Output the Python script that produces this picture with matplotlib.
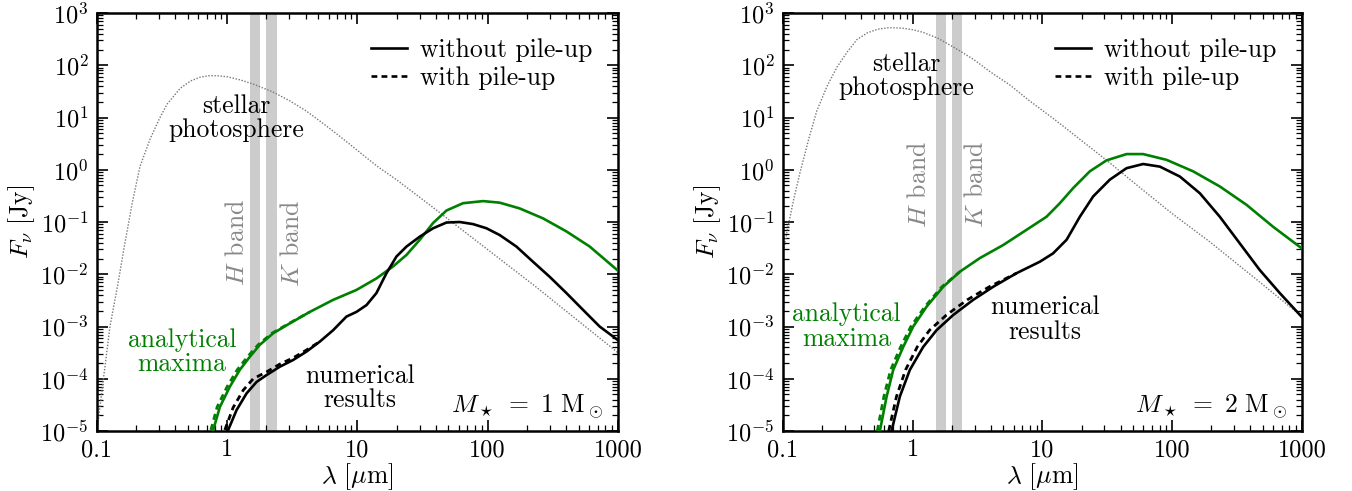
import matplotlib
matplotlib.use("Agg")
import numpy as np
import matplotlib.pyplot as plt
from matplotlib.ticker import FixedLocator, NullFormatter

plt.rcParams['font.family'] = 'serif'
plt.rcParams['font.serif'] = ['cmr10']
plt.rcParams['mathtext.fontset'] = 'cm'
plt.rcParams['axes.formatter.use_mathtext'] = True
plt.rcParams['axes.unicode_minus'] = False

# values, kept as log10(lambda / micron) and log10(F_nu / Jy)

# ---- left panel: M = 1 Msun ----
star1_loglam = [-1.0, -0.98, -0.94, -0.9, -0.84, -0.785, -0.73, -0.67, -0.59, -0.52, -0.46, -0.36,
                -0.28, -0.21, -0.14, -0.08, 0.0, 0.1, 0.2, 0.35, 0.48, 0.61, 0.74, 0.865, 1.0,
                1.15, 1.3, 1.58, 1.84, 2.1, 2.35, 2.65, 3.0]
star1_logf = [-5.0, -4.6, -3.8, -3.0, -2.2, -1.4, -0.65, 0.06, 0.6, 0.98, 1.26, 1.56,
              1.70, 1.77, 1.80, 1.80, 1.78, 1.72, 1.64, 1.49, 1.32, 1.12, 0.88, 0.64, 0.37,
              0.07, -0.19, -0.72, -1.22, -1.72, -2.2, -2.8, -3.5]

ana1_loglam = [-0.107, -0.056, 0.021, 0.097, 0.174, 0.251, 0.353, 0.481, 0.635, 0.814, 0.993,
               1.146, 1.274, 1.377, 1.479, 1.581, 1.684, 1.811, 1.965, 2.093, 2.246, 2.425,
               2.605, 2.784, 3.0]
ana1_logf = [-4.98, -4.54, -4.15, -3.83, -3.58, -3.35, -3.13, -2.94, -2.72, -2.49, -2.30,
             -2.08, -1.85, -1.63, -1.34, -1.02, -0.78, -0.64, -0.60, -0.63, -0.74, -0.93,
             -1.18, -1.47, -1.93]
ana1_pile_loglam = [-0.125, -0.077, 0.0, 0.077, 0.156, 0.238, 0.343, 0.476, 0.635]
ana1_pile_logf = [-4.98, -4.54, -4.15, -3.83, -3.58, -3.35, -3.13, -2.94, -2.72]

num1_loglam = [0.008, 0.072, 0.149, 0.226, 0.302, 0.404, 0.507, 0.609, 0.711, 0.814, 0.916,
               0.993, 1.07, 1.146, 1.223, 1.30, 1.377, 1.479, 1.581, 1.684, 1.786, 1.888,
               1.991, 2.093, 2.221, 2.348, 2.477, 2.605, 2.732, 2.86, 3.0]
num1_logf = [-4.98, -4.6, -4.28, -4.06, -3.93, -3.77, -3.64, -3.48, -3.29, -3.07, -2.81,
             -2.72, -2.59, -2.36, -1.98, -1.66, -1.47, -1.28, -1.12, -1.01, -1.0, -1.04,
             -1.12, -1.25, -1.47, -1.76, -2.05, -2.36, -2.68, -3.0, -3.26]
num1_pile_loglam = [-0.018, 0.046, 0.123, 0.2, 0.302, 0.404, 0.507, 0.609, 0.711]
num1_pile_logf = [-4.98, -4.55, -4.22, -4.0, -3.87, -3.72, -3.60, -3.45, -3.29]

# ---- right panel: M = 2 Msun ----
star2_loglam = [-1.0, -0.97, -0.92, -0.87, -0.80, -0.74, -0.66, -0.58, -0.50, -0.43, -0.35,
                -0.27, -0.18, -0.08, 0.0, 0.08, 0.2, 0.34, 0.47, 0.6, 0.75, 0.9, 1.1, 1.3,
                1.5, 1.77, 2.0, 2.29, 2.6, 3.0]
star2_logf = [-1.62, -1.2, -0.6, -0.07, 0.6, 1.12, 1.6, 1.98, 2.27, 2.49, 2.62,
              2.69, 2.72, 2.71, 2.68, 2.63, 2.51, 2.31, 2.11, 1.87, 1.62, 1.32, 0.95, 0.56,
              0.17, -0.38, -0.84, -1.38, -2.0, -2.81]

ana2_loglam = [-0.253, -0.201, -0.15, -0.073, 0.004, 0.107, 0.235, 0.364, 0.518, 0.698, 0.877,
               1.031, 1.134, 1.237, 1.365, 1.494, 1.648, 1.776, 1.956, 2.161, 2.367, 2.572,
               2.777, 2.996]
ana2_logf = [-5.0, -4.34, -3.83, -3.39, -3.0, -2.62, -2.24, -1.95, -1.69, -1.44, -1.15,
             -0.90, -0.64, -0.35, -0.03, 0.18, 0.30, 0.30, 0.19, -0.03, -0.32, -0.67,
             -1.09, -1.50]
ana2_pile_loglam = [-0.273, -0.222, -0.17, -0.093, -0.014, 0.094, 0.225, 0.364]
ana2_pile_logf = [-5.0, -4.34, -3.83, -3.39, -3.0, -2.62, -2.24, -1.95]

num2_loglam = [-0.163, -0.099, -0.022, 0.081, 0.184, 0.312, 0.466, 0.62, 0.80, 0.98, 1.082,
               1.186, 1.288, 1.391, 1.519, 1.648, 1.776, 1.905, 2.059, 2.213, 2.367, 2.521,
               2.675, 2.829, 2.996]
num2_logf = [-5.0, -4.34, -3.83, -3.39, -3.07, -2.78, -2.49, -2.24, -1.98, -1.76, -1.60,
             -1.34, -0.90, -0.51, -0.19, 0.03, 0.11, 0.06, -0.13, -0.45, -0.90, -1.41,
             -1.92, -2.36, -2.81]
num2_pile_loglam = [-0.185, -0.125, -0.055, 0.035, 0.13, 0.26, 0.42, 0.59, 0.80]
num2_pile_logf = [-5.0, -4.34, -3.83, -3.39, -3.07, -2.78, -2.49, -2.24, -1.98]

h_band = (1.5, 1.8)
k_band = (2.0, 2.4)
x_ticks = [0.1, 1, 10, 100, 1000]
x_labels = ['0.1', '1', '10', '100', '1000']
y_exponents = list(range(-5, 4))

GREEN = '#008000'
TXT = 18.5
DASH = (0, (2.2, 1.6))


def curve(loglam, logf):
    return 10 ** np.asarray(loglam), 10 ** np.asarray(logf)


def minor_ticks(lo, hi):
    return [m * 10.0 ** e for e in range(lo, hi) for m in range(2, 10)]


def panel(ax, star, ana, ana_p, num, num_p, mass, pos):
    ax.axvspan(*h_band, color='#cccccc', lw=0, zorder=1)
    ax.axvspan(*k_band, color='#cccccc', lw=0, zorder=1)
    ax.plot(*curve(*star), color='#777777', ls=(0, (1, 1.2)), lw=1.0, zorder=2)
    ax.plot(*curve(*ana_p), color=GREEN, ls=DASH, lw=2, zorder=3)
    ax.plot(*curve(*ana), color=GREEN, lw=1.9, zorder=4)
    ax.plot(*curve(*num_p), color='k', ls=DASH, lw=2, zorder=3)
    ax.plot(*curve(*num), color='k', lw=1.9, zorder=4)

    ax.set_xscale('log')
    ax.set_yscale('log')
    ax.set_xlim(0.1, 1000)
    ax.set_ylim(1e-5, 1e3)
    ax.xaxis.set_major_locator(FixedLocator(x_ticks))
    ax.set_xticklabels(x_labels)
    ax.xaxis.set_minor_locator(FixedLocator(minor_ticks(-1, 3)))
    ax.xaxis.set_minor_formatter(NullFormatter())
    ax.yaxis.set_major_locator(FixedLocator([10.0 ** e for e in y_exponents]))
    ax.set_yticklabels([r'$10^{%d}$' % e for e in y_exponents])
    ax.yaxis.set_minor_locator(FixedLocator(minor_ticks(-5, 3)))
    ax.yaxis.set_minor_formatter(NullFormatter())
    ax.tick_params(which='both', direction='in', top=True, right=True, labelsize=17.5)
    ax.tick_params(which='major', length=8, width=1.2, pad=6)
    ax.tick_params(which='minor', length=4, width=0.9)
    for s in ax.spines.values():
        s.set_linewidth(1.8)
    ax.set_xlabel(r'$\lambda\ [\mu\mathrm{m}]$', fontsize=TXT, labelpad=0)
    ax.set_ylabel(r'$F_\nu\ [\mathrm{Jy}]$', fontsize=TXT, labelpad=2)

    ax.text(pos['hb'][0], pos['hb'][1], r'$H$ band', rotation=90, color='#888888',
            fontsize=TXT, ha='center', va='center')
    ax.text(pos['kb'][0], pos['kb'][1], r'$K$ band', rotation=90, color='#888888',
            fontsize=TXT, ha='center', va='center')
    ax.text(pos['star'][0], pos['star'][1], 'stellar\nphotosphere', fontsize=TXT,
            ha='center', va='center', linespacing=1.05)
    ax.text(pos['ana'][0], pos['ana'][1], 'analytical\nmaxima', fontsize=TXT, color=GREEN,
            ha='center', va='center', linespacing=1.05)
    ax.text(pos['num'][0], pos['num'][1], 'numerical\nresults', fontsize=TXT,
            ha='center', va='center', linespacing=1.05)
    ax.text(0.972, 0.025, r'$M_\star\ =\ %d\ \mathrm{M}_\odot$' % mass, transform=ax.transAxes,
            fontsize=TXT, ha='right', va='bottom')

    h1, = ax.plot([], [], color='k', lw=1.9)
    h2, = ax.plot([], [], color='k', lw=1.9, ls=DASH)
    ax.legend([h1, h2], ['without pile-up', 'with pile-up'], loc='upper right', frameon=False,
              fontsize=TXT, handlelength=1.4, handletextpad=0.5, borderaxespad=0.6,
              labelspacing=0.15)


fig = plt.figure(figsize=(13.52, 4.91), dpi=100)
ax1 = fig.add_axes([0.0717, 0.1222, 0.3853, 0.8513])
ax2 = fig.add_axes([0.5791, 0.1222, 0.3839, 0.8513])

panel(ax1, (star1_loglam, star1_logf), (ana1_loglam, ana1_logf),
      (ana1_pile_loglam, ana1_pile_logf), (num1_loglam, num1_logf),
      (num1_pile_loglam, num1_pile_logf), 1,
      {'hb': (1.19, 10**-1.4), 'kb': (3.16, 10**-1.4), 'star': (1.18, 10**0.99),
       'ana': (0.45, 10**-3.49), 'num': (10.5, 10**-4.18)})
panel(ax2, (star2_loglam, star2_logf), (ana2_loglam, ana2_logf),
      (ana2_pile_loglam, ana2_pile_logf), (num2_loglam, num2_logf),
      (num2_pile_loglam, num2_pile_logf), 2,
      {'hb': (1.13, 10**-0.28), 'kb': (3.1, 10**-0.28), 'star': (0.9, 10**1.79),
       'ana': (0.31, 10**-3.0), 'num': (10.5, 10**-2.87)})

fig.savefig('out.png', dpi=100)
